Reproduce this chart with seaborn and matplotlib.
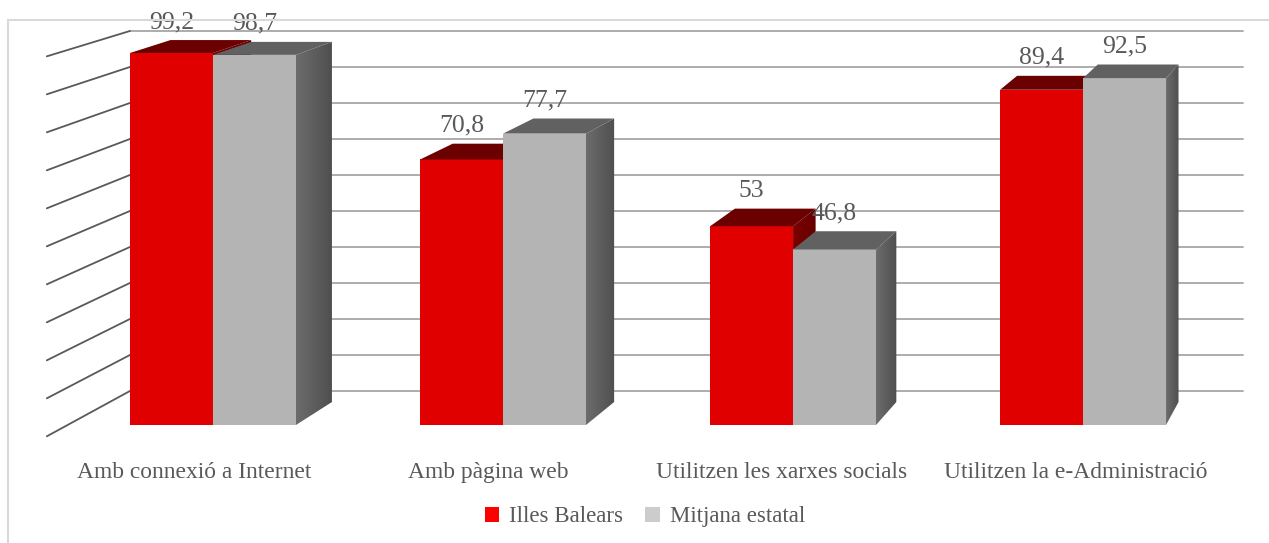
import numpy as np
import pandas as pd
import matplotlib
matplotlib.use("Agg")
import matplotlib.pyplot as plt
import seaborn as sns
from matplotlib.patches import Polygon, Patch
from matplotlib.lines import Line2D
from matplotlib.colors import LinearSegmentedColormap

categories = ["Amb connexió a Internet", "Amb pàgina web",
              "Utilitzen les xarxes socials", "Utilitzen la e-Administració"]
series = ["Illes Balears", "Mitjana estatal"]
balears = [99.2, 70.8, 53, 89.4]
estatal = [98.7, 77.7, 46.8, 92.5]
grid_values = list(range(0, 101, 10))

df = pd.DataFrame({
    "categoria": categories * 2,
    "valor": balears + estatal,
    "serie": [series[0]] * 4 + [series[1]] * 4,
})

front_cols = ["#e00000", "#b5b4b5"]
top_cols = ["#6b0000", "#616161"]
side_grad = [("#7c0000", "#650000"), ("#6c6c6c", "#4f4f4f")]
legend_cols = ["#ff0000", "#cdcccd"]
txt = "#595959"

sns.set_style("white")
plt.rcParams["font.family"] = ["Liberation Serif", "DejaVu Serif"]

fig = plt.figure(figsize=(12.69, 5.43), dpi=100)
ax = fig.add_axes([0, 0, 1, 1])
sns.barplot(data=df, x="categoria", y="valor", hue="serie", palette=front_cols,
            width=0.572, saturation=1, linewidth=0, legend=False, ax=ax)
ax.set_axis_off()

# simple perspective: points move toward a vanishing point with depth
VX, VY = 4.879, 226.9
T_BAR, T_WALL, T_FLOOR = 0.027, 0.04, -0.0133


def shift(x, y, t):
    return x + t * (VX - x), y + t * (VY - y)


# back wall gridlines and left wall lines
wall_left, wall_right = -0.2862, 3.552
for v in grid_values:
    _, yb = shift(0, v, T_WALL)
    ax.plot([wall_left, wall_right], [yb, yb], color="#a6a6a6", lw=1.3, zorder=1)
    xf0 = (wall_left - T_WALL * VX) / (1 - T_WALL)
    xf, yf = shift(xf0, v, T_FLOOR)
    ax.plot([xf, wall_left], [yf, yb], color="#595959", lw=1.3, zorder=1)

# 3D top and side faces + value labels
grad = np.linspace(0, 1, 64).reshape(1, -1)
for k, cont in enumerate(ax.containers):
    z = 2 + k
    cmap = LinearSegmentedColormap.from_list(f"s{k}", side_grad[k])
    for p in cont:
        p.set_zorder(z)
        x0 = p.get_x()
        x1 = x0 + p.get_width()
        h = p.get_height()
        top = [(x0, h), (x1, h), shift(x1, h, T_BAR), shift(x0, h, T_BAR)]
        side = [(x1, 0), (x1, h), shift(x1, h, T_BAR), shift(x1, 0, T_BAR)]
        poly = Polygon(side, closed=True, fc="none", ec="none", zorder=z)
        ax.add_patch(poly)
        xs2 = shift(x1, 0, T_BAR)[0]
        ys2 = shift(x1, h, T_BAR)[1]
        im = ax.imshow(grad, cmap=cmap, aspect="auto", extent=(x1, xs2, 0, max(h, ys2)),
                       zorder=z, interpolation="bilinear")
        im.set_clip_path(poly)
        ax.add_patch(Polygon(top, closed=True, fc=top_cols[k], ec="none", zorder=z))
        yt = shift(x0, h, T_BAR)[1]
        lab = f"{h:g}".replace(".", ",")
        ax.text((x0 + x1) / 2, yt + 3.2, lab, ha="center", va="baseline",
                fontsize=18.5, color=txt, zorder=5)

ax.set_xlim(-0.7345, 3.641)
ax.set_ylim(-31.47, 113.33)

# category labels on floor front plane
for i, c in enumerate(categories):
    xl, _ = shift(i, 0, T_FLOOR)
    ax.text(xl, -12.6, c, ha="center", va="center", fontsize=16.9, color=txt)

handles = [Patch(fc=legend_cols[k], ec="none", label=series[k]) for k in range(2)]
fig.legend(handles=handles, loc="center", bbox_to_anchor=(0.508, 0.048), ncol=2,
           frameon=False, fontsize=16.5, labelcolor=txt, handlelength=0.65,
           handleheight=0.65, handletextpad=0.4, columnspacing=1.0)

# chart area border
fig.add_artist(Line2D([8 / 1269, 8 / 1269], [0, 1 - 20 / 543], color="#d9d9d9", lw=1.5))
fig.add_artist(Line2D([8 / 1269, 1], [1 - 20 / 543, 1 - 20 / 543], color="#d9d9d9", lw=1.5))

fig.savefig("out.png", dpi=100, facecolor="white")
